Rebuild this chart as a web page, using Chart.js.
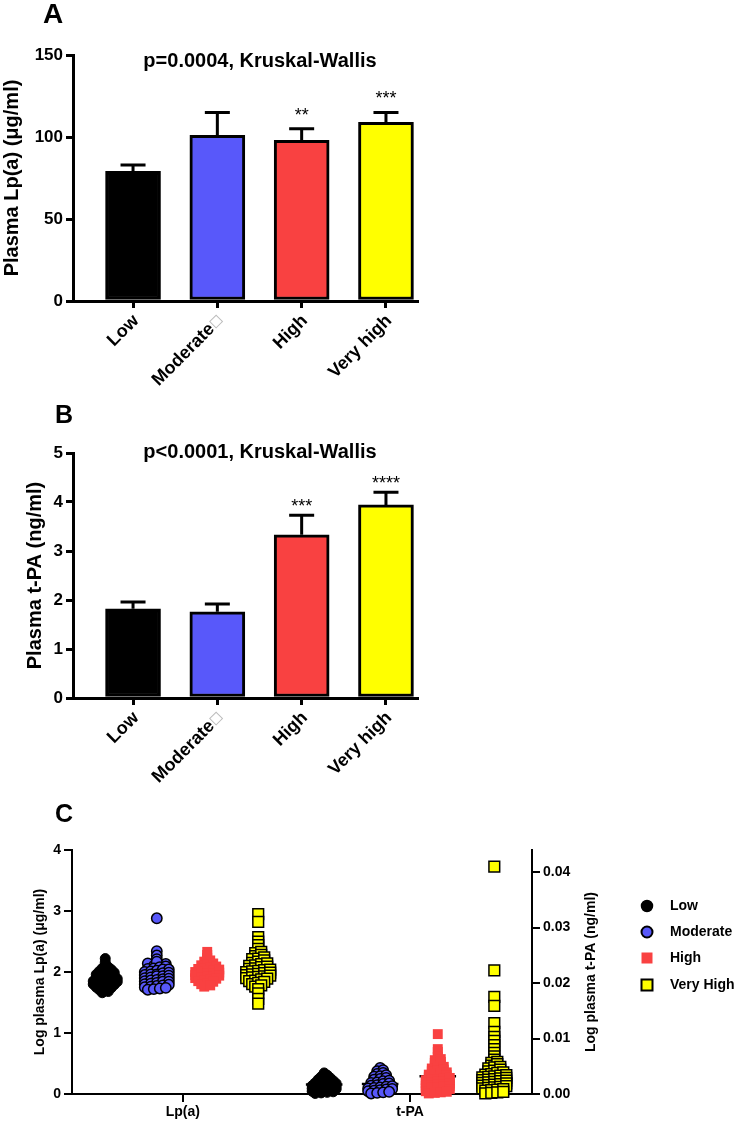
<!DOCTYPE html>
<html>
<head>
<meta charset="utf-8">
<script src="https://cdn.jsdelivr.net/npm/chart.js@4.4.1/dist/chart.umd.min.js"></script>
<style>
  body { margin: 0; background: #fff; }
  canvas { position: absolute; left: 0; }
</style>
</head>
<body>
<canvas id="chartA" width="738" height="400" style="top:0"></canvas>
<canvas id="chartB" width="738" height="400" style="top:400px"></canvas>
<canvas id="chartC" width="738" height="323" style="top:800px"></canvas>
<script>
// ---- data ----
var barLabels = ['Low', 'Moderate\u25A1', 'High', 'Very high'];
var lpaMean = [79, 101, 98, 109];
var lpaErr = [83, 115, 105, 115];
var lpaStars = ['', '', '**', '***'];
var tpaMean = [1.82, 1.76, 3.33, 3.94];
var tpaErr = [1.96, 1.92, 3.73, 4.2];
var tpaStars = ['', '', '***', '****'];

var legendLabels = ['Low', 'Moderate', 'High', 'Very High'];
var xCatLabels = ['Lp(a)', 't-PA'];
var rightTicks = [0, 0.01, 0.02, 0.03, 0.04];

// panel C, log Lp(a) (left axis)
var lowLpa = [2.22, 2.16, 2.11, 2.06, 2.08, 2.01, 2.03, 2.04, 1.96, 1.97, 1.98, 1.99, 1.91, 1.92, 1.93, 1.94,
  1.85, 1.86, 1.86, 1.88, 1.89, 1.8, 1.81, 1.82, 1.83, 1.84, 1.75, 1.76, 1.78, 1.79, 1.71, 1.72, 1.74, 1.66, 1.68];
var modLpa = [2.88, 2.34, 2.27, 2.21, 2.14, 2.17, 2.1, 2.12, 2.13, 2.05, 2.06, 2.08, 2.09, 2.0, 2.01, 2.02, 2.04, 2.04,
  1.95, 1.96, 1.96, 1.98, 1.99, 1.9, 1.91, 1.93, 1.93, 1.94, 1.85, 1.86, 1.87, 1.88, 1.89, 1.8, 1.81, 1.82, 1.84, 1.84,
  1.75, 1.76, 1.77, 1.78, 1.79, 1.71, 1.72, 1.73, 1.74];
var highLpa = [2.33, 2.28, 2.23, 2.17, 2.19, 2.11, 2.12, 2.14, 2.05, 2.06, 2.08, 2.09, 2.0, 2.01, 2.02, 2.03, 2.04,
  1.95, 1.96, 1.97, 1.98, 1.99, 1.9, 1.91, 1.92, 1.93, 1.94, 1.85, 1.86, 1.88, 1.89, 1.8, 1.82, 1.84, 1.76, 1.78];
var vhighLpa = [2.95, 2.82, 2.57, 2.5, 2.44, 2.38, 2.31, 2.33, 2.26, 2.28, 2.21, 2.22, 2.24, 2.15, 2.17, 2.19,
  2.1, 2.11, 2.13, 2.14, 2.05, 2.06, 2.08, 2.09, 2.0, 2.01, 2.02, 2.03, 2.04, 1.95, 1.96, 1.97, 1.98, 1.99,
  1.9, 1.91, 1.92, 1.93, 1.94, 1.85, 1.86, 1.88, 1.89, 1.8, 1.82, 1.84, 1.76, 1.78, 1.72, 1.65, 1.56, 1.48];
var lpaMid = [1.86, 1.9, 1.96, 1.97];

// panel C, log t-PA (right axis)
var lowTpa = [0.0038, 0.0031, 0.0034, 0.0026, 0.0028, 0.0029, 0.002, 0.0021, 0.0023, 0.0024, 0.0015, 0.0016, 0.0017,
  0.0018, 0.0019, 0.001, 0.0011, 0.0012, 0.0013, 0.0014, 0.0005, 0.0006, 0.0007, 0.0008, 0.0009,
  0.0001, 0.0002, 0.0003, 0.0004];
var modTpa = [0.0047, 0.0041, 0.0043, 0.0036, 0.0038, 0.0031, 0.0032, 0.0034, 0.0026, 0.0027, 0.0029, 0.002, 0.0021,
  0.0023, 0.0024, 0.0015, 0.0016, 0.0018, 0.0019, 0.001, 0.0011, 0.0012, 0.0013, 0.0014, 0.0005, 0.0006, 0.0007,
  0.0008, 0.0009, 0.0001, 0.0002, 0.0003, 0.0004];
var highTpa = [0.0108, 0.0081, 0.0076, 0.0067, 0.0061, 0.0063, 0.0056, 0.0058, 0.0051, 0.0053, 0.0046, 0.0047,
  0.0049, 0.0041, 0.0042, 0.0044, 0.0035, 0.0036, 0.0038, 0.0039, 0.003, 0.0031, 0.0033, 0.0034, 0.0025, 0.0026,
  0.0027, 0.0028, 0.0029, 0.002, 0.0021, 0.0022, 0.0023, 0.0024, 0.0015, 0.0016, 0.0017, 0.0018, 0.0019, 0.001,
  0.0011, 0.0012, 0.0013, 0.0014, 0.0005, 0.0006, 0.0007, 0.0008, 0.0009, 0.0001, 0.0002, 0.0003, 0.0004];
var vhighTpa = [0.041, 0.0223, 0.0175, 0.0159, 0.0128, 0.0112, 0.0103, 0.0096, 0.0088, 0.0081, 0.0074, 0.0068,
  0.0062, 0.0056, 0.0058, 0.0051, 0.0054, 0.0046, 0.0048, 0.0049, 0.0041, 0.0042, 0.0044, 0.0035, 0.0036, 0.0038,
  0.0039, 0.003, 0.0031, 0.0032, 0.0033, 0.0034, 0.0025, 0.0026, 0.0027, 0.0028, 0.0029, 0.002, 0.0021, 0.0022,
  0.0023, 0.0024, 0.0015, 0.0016, 0.0017, 0.0018, 0.0019, 0.001, 0.0011, 0.0012, 0.0013, 0.0014, 0.0006, 0.0007,
  0.0008, 0.0009, 0.0001, 0.0002, 0.0003, 0.0004];
var tpaMid = [0.0017, 0.0018, 0.0032, 0.0028];

// ---- look ----
var FONT = "'Liberation Sans', Arial, sans-serif";
Chart.defaults.font.family = FONT;
Chart.defaults.color = '#000';
var barColors = ['#000000', '#5858FA', '#F94141', '#FFFF00'];
var swarmStyles = [
  { style: 'circle', r: 5, bg: '#000000', border: '#000000', bw: 1 },
  { style: 'circle', r: 5.2, bg: '#5858FA', border: '#000000', bw: 1.5 },
  { style: 'rect', r: 7, bg: '#F94141', border: '#F94141', bw: 0 },
  { style: 'rect', r: 7.6, bg: '#FFFF00', border: '#000000', bw: 1.5 }
];

// error bars, stars and the text around a bar panel
function barDecor(cfg) {
  return {
    id: 'barDecor',
    afterDatasetsDraw: function (chart) {
      var ctx = chart.ctx, ys = chart.scales.y;
      var bars = chart.getDatasetMeta(0).data;
      ctx.save();
      ctx.strokeStyle = '#000';
      ctx.lineWidth = 3;
      for (var i = 0; i < bars.length; i++) {
        var x = bars[i].x, ey = ys.getPixelForValue(cfg.err[i]);
        ctx.beginPath();
        ctx.moveTo(x, bars[i].y);
        ctx.lineTo(x, ey);
        ctx.moveTo(x - 12.5, ey);
        ctx.lineTo(x + 12.5, ey);
        ctx.stroke();
        if (cfg.stars[i]) {
          ctx.fillStyle = '#000';
          ctx.font = '18px ' + FONT;
          ctx.textAlign = 'center';
          ctx.textBaseline = 'alphabetic';
          ctx.fillText(cfg.stars[i], x, ey - cfg.starGap);
        }
      }
      ctx.restore();
    },
    afterDraw: function (chart) {
      var ctx = chart.ctx, area = chart.chartArea, xs = chart.scales.x;
      ctx.save();
      ctx.fillStyle = '#000';
      ctx.textBaseline = 'alphabetic';
      ctx.textAlign = 'left';
      ctx.font = 'bold ' + cfg.letterSize + 'px ' + FONT;
      ctx.fillText(cfg.letter, cfg.letterX, 23);
      ctx.textAlign = 'center';
      ctx.font = 'bold 20px ' + FONT;
      ctx.fillText(cfg.title, 260, cfg.titleY);
      // y title, reading upwards
      ctx.save();
      ctx.translate(cfg.yTitleX, (area.top + area.bottom) / 2);
      ctx.rotate(-Math.PI / 2);
      ctx.fillText(cfg.yTitle, 0, 0);
      ctx.restore();
      // slanted category labels
      for (var i = 0; i < barLabels.length; i++) {
        var lab = barLabels[i], box = lab.slice(-1) === '\u25A1';
        ctx.save();
        ctx.translate(xs.getPixelForValue(i + 1) + 3, area.bottom + 17);
        ctx.rotate(-Math.PI / 4);
        ctx.textBaseline = 'middle';
        ctx.textAlign = 'right';
        var endX = 0;
        if (box) {
          lab = lab.slice(0, -1);
          ctx.strokeStyle = '#bdbdbd';
          ctx.lineWidth = 1;
          ctx.strokeRect(-10, -5, 9, 9);
          endX = -12;
        }
        ctx.font = 'bold 18px ' + FONT;
        ctx.fillStyle = '#000';
        ctx.fillText(lab, endX, 0);
        ctx.restore();
      }
      ctx.restore();
    }
  };
}

function barChart(id, means, cfg) {
  return new Chart(document.getElementById(id), {
    type: 'bar',
    data: {
      datasets: [{
        data: means.map(function (v, i) { return { x: i + 1, y: v }; }),
        backgroundColor: barColors,
        borderColor: '#000',
        borderWidth: 3,
        borderSkipped: false,
        barThickness: 55
      }]
    },
    options: {
      responsive: false,
      animation: false,
      events: [],
      devicePixelRatio: 1,
      layout: { padding: { top: cfg.top, right: 321, left: 0, bottom: 0 } },
      plugins: { legend: { display: false }, tooltip: { enabled: false } },
      scales: {
        x: {
          type: 'linear', min: 0.288, max: 4.368, offset: false,
          afterBuildTicks: function (s) { s.ticks = barLabels.map(function (l, i) { return { value: i + 1 }; }); },
          afterFit: function (s) { s.height = cfg.xHeight; },
          ticks: { display: false },
          grid: { drawOnChartArea: false, color: '#000', lineWidth: 3, tickLength: 7, offset: false },
          border: { color: '#000', width: 3 }
        },
        y: {
          min: 0, max: cfg.yMax,
          afterFit: function (s) { s.width = 73; },
          ticks: { stepSize: cfg.yStep, color: '#000', padding: 3, font: { size: 17, weight: 'bold' } },
          grid: { drawOnChartArea: false, color: '#000', lineWidth: 3, tickLength: 7 },
          border: { color: '#000', width: 3 }
        }
      }
    },
    plugins: [barDecor(cfg)]
  });
}

barChart('chartA', lpaMean, {
  err: lpaErr, stars: lpaStars, starGap: 8, top: 55, xHeight: 99, yMax: 150, yStep: 50,
  letter: 'A', letterSize: 28, letterX: 43, title: 'p=0.0004, Kruskal-Wallis', titleY: 67,
  yTitle: 'Plasma Lp(a) (\u03BCg/ml)', yTitleX: 18
});
barChart('chartB', tpaMean, {
  err: tpaErr, stars: tpaStars, starGap: 3, top: 53, xHeight: 102, yMax: 5, yStep: 1,
  letter: 'B', letterSize: 25, letterX: 55, title: 'p<0.0001, Kruskal-Wallis', titleY: 58,
  yTitle: 'Plasma t-PA (ng/ml)', yTitleX: 41
});

// ---- panel C: scatter dot plot with two y axes ----
var X_MAX = 8.3;                         // x axis runs 0..X_MAX over the 460px plot
var X_PX = 460 / X_MAX;                  // pixels per x unit
var lpaPos = [0.6, 1.53, 2.44, 3.36];    // column centres under Lp(a)
var tpaPos = [4.55, 5.56, 6.6, 7.62];    // column centres under t-PA
var catPos = [2, 6.1];

// points sharing a row are spread sideways about the column centre
function swarm(values, centre, rowUnits, stepPx) {
  var rows = {}, keys = [], pts = [];
  values.forEach(function (v) {
    var k = Math.floor(v / rowUnits + 1e-6);
    if (!rows[k]) { rows[k] = []; keys.push(k); }
    rows[k].push(v);
  });
  keys.forEach(function (k) {
    var r = rows[k];
    r.forEach(function (v, i) {
      pts.push({ x: centre + (i - (r.length - 1) / 2) * stepPx / X_PX, y: v });
    });
  });
  return pts;
}

function midLines(mids, pos, half) {
  var d = [];
  mids.forEach(function (m, i) {
    d.push({ x: pos[i] - half, y: m }, { x: pos[i] + half, y: m }, { x: pos[i] + half + 0.01, y: null });
  });
  return d;
}

var lpaSets = [lowLpa, modLpa, highLpa, vhighLpa];
var tpaSets = [lowTpa, modTpa, highTpa, vhighTpa];
var cSets = [];
lpaSets.forEach(function (vals, i) {
  var s = swarmStyles[i];
  cSets.push({
    label: legendLabels[i], yAxisID: 'y', clip: false,
    data: swarm(vals, lpaPos[i], 0.05, 6),
    pointStyle: s.style, pointRadius: s.r, pointBackgroundColor: s.bg,
    pointBorderColor: s.border, pointBorderWidth: s.bw
  });
});
tpaSets.forEach(function (vals, i) {
  var s = swarmStyles[i];
  cSets.push({
    label: legendLabels[i], yAxisID: 'y2', clip: false,
    data: swarm(vals, tpaPos[i], 0.0005, 6),
    pointStyle: s.style, pointRadius: s.r, pointBackgroundColor: s.bg,
    pointBorderColor: s.border, pointBorderWidth: s.bw
  });
});
cSets.push({ yAxisID: 'y', data: midLines(lpaMid, lpaPos, 0.26), showLine: true, spanGaps: false,
  borderColor: '#000', borderWidth: 2.5, pointRadius: 0, clip: false });
cSets.push({ yAxisID: 'y2', data: midLines(tpaMid, tpaPos, 0.33), showLine: true, spanGaps: false,
  borderColor: '#000', borderWidth: 2.5, pointRadius: 0, clip: false });

var cDecor = {
  id: 'cDecor',
  afterDraw: function (chart) {
    var ctx = chart.ctx, area = chart.chartArea, mid = (area.top + area.bottom) / 2;
    ctx.save();
    ctx.fillStyle = '#000';
    ctx.textAlign = 'left';
    ctx.textBaseline = 'alphabetic';
    ctx.font = 'bold 25px ' + FONT;
    ctx.fillText('C', 55, 22);
    ctx.font = 'bold 14px ' + FONT;
    ctx.textAlign = 'center';
    [[44, 'Log plasma Lp(a) (\u03BCg/ml)'], [595, 'Log plasma t-PA (ng/ml)']].forEach(function (t) {
      ctx.save();
      ctx.translate(t[0], mid);
      ctx.rotate(-Math.PI / 2);
      ctx.fillText(t[1], 0, 0);
      ctx.restore();
    });
    // legend
    var rowsY = [106, 132, 158, 185];
    for (var i = 0; i < legendLabels.length; i++) {
      var s = swarmStyles[i], cx = 647, cy = rowsY[i];
      ctx.beginPath();
      if (s.style === 'circle') {
        ctx.arc(cx, cy, 5.5, 0, Math.PI * 2);
      } else {
        ctx.rect(cx - 5.5, cy - 5.5, 11, 11);
      }
      ctx.fillStyle = s.bg;
      ctx.fill();
      if (s.bw) {
        ctx.lineWidth = s.bw + 0.5;
        ctx.strokeStyle = s.border;
        ctx.stroke();
      }
      ctx.fillStyle = '#000';
      ctx.textAlign = 'left';
      ctx.textBaseline = 'middle';
      ctx.font = 'bold 14px ' + FONT;
      ctx.fillText(legendLabels[i], 670, cy);
    }
    ctx.restore();
  }
};

new Chart(document.getElementById('chartC'), {
  type: 'scatter',
  data: { datasets: cSets },
  options: {
    responsive: false,
    animation: false,
    events: [],
    devicePixelRatio: 1,
    layout: { padding: { top: 50, right: 0, left: 0, bottom: 0 } },
    plugins: { legend: { display: false }, tooltip: { enabled: false } },
    scales: {
      x: {
        type: 'linear', min: 0, max: X_MAX,
        afterBuildTicks: function (s) { s.ticks = catPos.map(function (p) { return { value: p }; }); },
        afterFit: function (s) { s.height = 29; },
        ticks: {
          maxRotation: 0, autoSkip: false, padding: 2, color: '#000', font: { size: 14, weight: 'bold' },
          callback: function (v, i) { return xCatLabels[i]; }
        },
        grid: { drawOnChartArea: false, color: '#000', lineWidth: 2, tickLength: 8 },
        border: { color: '#000', width: 2 }
      },
      y: {
        position: 'left', min: 0, max: 4,
        afterFit: function (s) { s.width = 72; },
        ticks: { stepSize: 1, padding: 3, color: '#000', font: { size: 14, weight: 'bold' } },
        grid: { drawOnChartArea: false, color: '#000', lineWidth: 2, tickLength: 8 },
        border: { color: '#000', width: 2 }
      },
      y2: {
        position: 'right', min: 0, max: 0.044,
        afterBuildTicks: function (s) { s.ticks = rightTicks.map(function (v) { return { value: v }; }); },
        afterFit: function (s) { s.width = 206; },
        ticks: {
          padding: 3, color: '#000', font: { size: 14, weight: 'bold' },
          callback: function (v) { return v.toFixed(2); }
        },
        grid: { drawOnChartArea: false, color: '#000', lineWidth: 2, tickLength: 8 },
        border: { color: '#000', width: 2 }
      }
    }
  },
  plugins: [cDecor]
});
</script>
</body>
</html>
